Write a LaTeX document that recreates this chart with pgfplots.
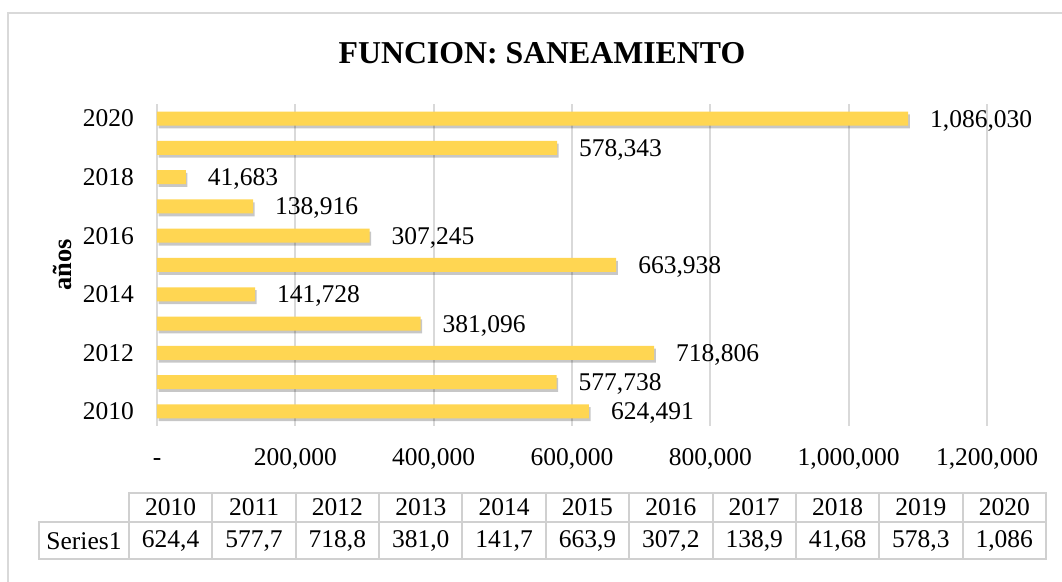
\documentclass[border=0pt]{standalone}
\usepackage{fontspec}
\setmainfont{Liberation Serif}
\usepackage{pgfplots}
\pgfplotsset{compat=1.18}
\usetikzlibrary{shadows}
\definecolor{barc}{RGB}{255,214,82}
\definecolor{gridc}{RGB}{217,217,217}
\definecolor{tabc}{RGB}{208,208,208}
\newcommand{\tfont}{\fontsize{12.75}{15}\selectfont}
\begin{document}
\begin{tikzpicture}
\begin{scope}[x=0.5pt,y=-0.5pt]
\useasboundingbox (0,0) rectangle (1062,582);
\fill[white] (0,0) rectangle (1062,582);
\draw[gridc, line width=1pt] (8,600) -- (8,13) -- (1080,13);
\node[font=\fontsize{15.9}{18}\selectfont\bfseries] at (542,53) {FUNCION: SANEAMIENTO};
\node[rotate=90, font=\fontsize{13.2}{15}\selectfont\bfseries] at (62,265) {años};
% data table
\draw[tabc, line width=1pt] (129,493) rectangle (1046,559);
\draw[tabc, line width=1pt] (39,522) rectangle (129,559);
\draw[tabc, line width=1pt] (129,522) -- (1046,522);
\foreach \i in {1,...,10} {\draw[tabc, line width=1pt] ({129+83.36*\i},493) -- ({129+83.36*\i},559);}
\foreach \yr [count=\i from 0] in {2010,2011,2012,2013,2014,2015,2016,2017,2018,2019,2020}
  {\node[font=\tfont] at ({129+83.36*(\i+0.5)},507.5) {\yr};}
\foreach \v [count=\i from 0] in {{624,4},{577,7},{718,8},{381,0},{141,7},{663,9},{307,2},{138,9},{41,68},{578,3},{1,086}}
  {\node[font=\tfont] at ({129+83.36*(\i+0.5)},541) {\v};}
\node[font=\tfont] at (84,541) {Series1};
\end{scope}
\begin{axis}[
  at={(78.5pt,-213pt)}, anchor=south west,
  scale only axis, width=415pt, height=161pt,
  xbar, bar width=7pt,
  xmin=0, xmax=1200000, ymin=-0.5, ymax=10.5,
  scaled x ticks=false,
  /pgf/number format/assume math mode=true,
  xtick={0,200000,400000,600000,800000,1000000,1200000},
  xticklabels={{-\hspace{5pt}},{200,000},{400,000},{600,000},{800,000},{1,000,000},{1,200,000}},
  ytick={0,2,4,6,8,10},
  yticklabels={2010,2012,2014,2016,2018,2020},
  major tick length=0pt,
  xmajorgrids, grid style={gridc, line width=1pt},
  axis x line*=bottom, axis y line*=left,
  x axis line style={draw=none},
  y axis line style={draw=gridc, line width=1pt},
  xticklabel style={font=\tfont, anchor=base, yshift=-20pt},
  yticklabel style={font=\tfont, xshift=-8pt},
  nodes near coords={\pgfmathprintnumber[fixed,precision=0,1000 sep={,}]{\pgfplotspointmeta}},
  nodes near coords style={font=\tfont, black, xshift=7.5pt, yshift=-1pt},
]
\addplot[fill=barc, draw=none, drop shadow={shadow xshift=0.8pt, shadow yshift=-1.4pt, fill=black, opacity=0.22}] coordinates {
(624491,0) (577738,1) (718806,2) (381096,3) (141728,4) (663938,5)
(307245,6) (138916,7) (41683,8) (578343,9) (1086030,10)};
\end{axis}
\end{tikzpicture}
\end{document}
